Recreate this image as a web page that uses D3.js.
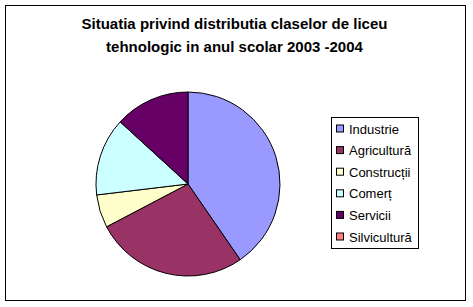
<!DOCTYPE html>
<html>
<head>
<meta charset="utf-8">
<script src="https://cdn.jsdelivr.net/npm/d3@7"></script>
<style>
  body { margin: 0; background: #fff; }
  svg { display: block; font-family: "Liberation Sans", Arial, sans-serif; }
</style>
</head>
<body>
<div id="chart"></div>
<script>
// categories + values
var categories = ["Industrie", "Agricultură", "Construcții", "Comerț", "Servicii", "Silvicultură"];
var values = [40.4, 26.9, 5.8, 13.7, 13.2, 0];
var colors = ["#9999FF", "#993366", "#FFFFCC", "#CCFFFF", "#660066", "#FF8080"];
var titleLines = ["Situatia privind distributia claselor de liceu", "tehnologic in anul scolar 2003 -2004"];

var width = 473, height = 307;
var cx = 188, cy = 184, r = 92;

var svg = d3.select("#chart").append("svg")
  .attr("width", width)
  .attr("height", height);

// chart area border
svg.append("rect")
  .attr("x", 5.5).attr("y", 5.5)
  .attr("width", 460).attr("height", 295)
  .attr("fill", "#fff")
  .attr("stroke", "#000")
  .attr("stroke-width", 1);

svg.append("g")
  .selectAll("text")
  .data(titleLines).enter()
  .append("text")
    .attr("x", 234.5)
    .attr("y", function(d, i) { return 29 + i * 22.5; })
    .attr("text-anchor", "middle")
    .attr("font-size", "15px")
    .attr("font-weight", "bold")
    .text(function(d) { return d; });

var data = categories.map(function(c, i) { return {label: c, value: values[i], color: colors[i]}; });

var pie = d3.pie().sort(null).value(function(d) { return d.value; });
var arc = d3.arc().innerRadius(0).outerRadius(r);

svg.append("g")
  .attr("transform", "translate(" + cx + "," + cy + ")")
  .selectAll("path")
  .data(pie(data).filter(function(d) { return d.data.value > 0; })).enter()
  .append("path")
    .attr("d", arc)
    .attr("fill", function(d) { return d.data.color; })
    .attr("stroke", "#000")
    .attr("stroke-width", 1);

// legend
var legend = svg.append("g").attr("transform", "translate(331.5,117.5)");
legend.append("rect")
  .attr("width", 87).attr("height", 131)
  .attr("fill", "#fff")
  .attr("stroke", "#000")
  .attr("stroke-width", 1);

var item = legend.selectAll("g.item")
  .data(data).enter()
  .append("g")
    .attr("class", "item")
    .attr("transform", function(d, i) { return "translate(0," + (11 + i * 21.6) + ")"; });

item.append("rect")
  .attr("x", 5).attr("y", -3.5)
  .attr("width", 7).attr("height", 7)
  .attr("fill", function(d) { return d.color; })
  .attr("stroke", "#000")
  .attr("stroke-width", 1);

item.append("text")
  .attr("x", 17.5)
  .attr("y", 5)
  .attr("font-size", "13px")
  .text(function(d) { return d.label; });
</script>
</body>
</html>
